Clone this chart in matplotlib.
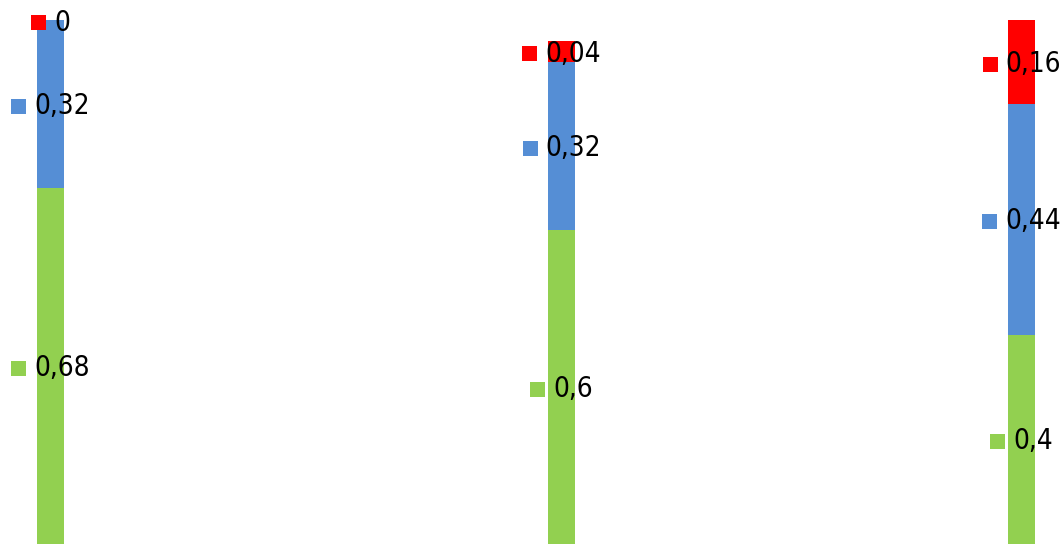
import matplotlib
matplotlib.use("Agg")
import matplotlib.pyplot as plt
from matplotlib.offsetbox import AnnotationBbox, DrawingArea, HPacker, TextArea
from matplotlib.patches import Rectangle

# dados
posicoes = [0, 1, 1.9]
verde = [0.68, 0.6, 0.4]
azul = [0.32, 0.32, 0.44]
vermelho = [0, 0.04, 0.16]

cores = ["#92D050", "#558ED5", "#FF0000"]


def rotulo(ax, x, y, texto, cor):
    quad = DrawingArea(10.8, 10.8, 0, 0)
    quad.add_artist(Rectangle((0, 0), 10.8, 10.8, facecolor=cor, edgecolor="none"))
    txt = TextArea(texto, textprops=dict(fontsize=20, fontstretch="condensed",
                                         color="black"))
    caixa = HPacker(children=[quad, txt], align="center", pad=0, sep=5.5)
    ab = AnnotationBbox(caixa, (x, y), xycoords="data", xybox=(0, -1.5),
                        boxcoords="offset points", frameon=False,
                        box_alignment=(0.5, 0.5), pad=0)
    ax.add_artist(ab)


fig = plt.figure(figsize=(10.64, 5.44), dpi=100)
ax = fig.add_axes([0, 0, 1, 1])
ax.set_xlim(-0.0988, 1.983)
ax.set_ylim(0, 1.039)
ax.axis("off")

largura = 0.053
base = [0] * len(posicoes)
for serie, cor in zip([verde, azul, vermelho], cores):
    ax.bar(posicoes, serie, width=largura, bottom=base, color=cor, linewidth=0)
    for x, b, v in zip(posicoes, base, serie):
        rotulo(ax, x, b + v / 2, f"{v:g}".replace(".", ","), cor)
    base = [b + v for b, v in zip(base, serie)]

fig.savefig("out.png", dpi=100)
